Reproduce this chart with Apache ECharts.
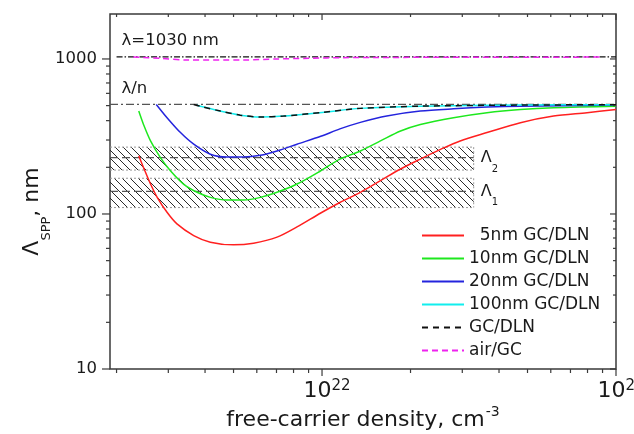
<!DOCTYPE html>
<html><head><meta charset="utf-8">
<script src="https://cdn.jsdelivr.net/npm/echarts@6/dist/echarts.min.js"></script>
<style>html,body{margin:0;padding:0;background:#fff}#c{width:634px;height:434px}</style>
</head><body><div id="c"></div>
<script>
// ---------------- data (x: free-carrier density, cm^-3; y: Λ_SPP, nm) ----------------
const red5N   = [2.38e21, 2.47e21, 2.61e21, 2.75e21, 2.97e21, 3.21e21, 3.66e21, 4.17e21, 5.0e21, 5.85e21, 7.03e21, 8.22e21, 9.9e21, 1.15e22, 1.35e22, 1.58e22, 1.85e22, 2.16e22, 2.53e22, 2.95e22, 3.64e22, 4.73e22, 6.13e22, 7.97e22, 1e23];
const red5L   = [237, 199.5, 156, 128, 102.5, 86.3, 72.6, 65.8, 63.2, 64.8, 70.9, 82.5, 101.5, 118.6, 138, 164, 195, 226, 261, 296, 335, 388, 428, 450, 472];

const green10N = [2.38e21, 2.47e21, 2.61e21, 2.82e21, 3.05e21, 3.38e21, 3.76e21, 4.17e21, 4.75e21, 5.41e21, 6.17e21, 7.03e21, 8.22e21, 9.9e21, 1.15e22, 1.35e22, 1.58e22, 1.85e22, 2.16e22, 2.80e22, 3.64e22, 4.73e22, 6.13e22, 1e23];
const green10L = [461, 378, 296, 231, 190, 156, 138, 128, 123, 123, 128, 138, 156, 190, 226, 255, 296, 343, 378, 418, 450, 472, 485, 496];

const blue20N = [2.73e21, 2.97e21, 3.30e21, 3.66e21, 4.17e21, 4.75e21, 5.41e21, 6.17e21, 7.03e21, 8.22e21, 9.9e21, 1.15e22, 1.35e22, 1.66e22, 2.16e22, 2.80e22, 3.64e22, 4.73e22, 1e23];
const blue20L = [509, 418, 335, 282, 243, 233, 233, 239, 255, 282, 317, 354, 390, 429, 461, 477, 489, 496, 504];

const cyan100N = [3.75e21, 3.85e21, 4.51e21, 5.27e21, 6.17e21, 7.40e21, 1e22, 1.35e22, 2.16e22, 4.73e22, 1e23];
const cyan100L = [503, 496, 461, 434, 422, 428, 452, 480, 496, 504, 507];

const gcDlnN = [3.66e21, 3.85e21, 4.51e21, 5.27e21, 6.17e21, 7.40e21, 1e22, 1.35e22, 2.16e22, 4.73e22, 1e23];
const gcDlnL = [509, 496, 461, 434, 422, 428, 452, 480, 496, 504, 507];

const airGcN = [2.28e21, 2.82e21, 3.47e21, 5.41e21, 7.03e21, 9.1e21, 1.18e22, 2.73e22, 9.0e22];
const airGcL = [1030, 1010, 985, 985, 1000, 1010, 1020, 1025, 1028];

const lambdaN = [2.0e21, 1e23];      const lambdaL = [1030, 1030];
const lambdaNN = [1.9e21, 1e23];     const lambdaNL = [509, 509];

// hatched bands Λ2 and Λ1: [low, high, centre]
const bandNames  = ['2', '1'];
const bandLow    = [192, 110];
const bandHigh   = [270, 170];
const bandCenter = [231, 140];
const bandEndN   = 3.28e22;

const annotN = [2.0e21, 2.0e21];
const annotL = [1030, 509];
const annotText = ['λ=1030 nm', 'λ/n'];

const legendNames = ['  5nm GC/DLN', '10nm GC/DLN', '20nm GC/DLN', '100nm GC/DLN', 'GC/DLN', 'air/GC'];

// tick values
const xMajorTicks = [1e22, 1e23];
const xMinorTicks = [2e21, 3e21, 4e21, 5e21, 6e21, 7e21, 8e21, 9e21, 2e22, 3e22, 4e22, 5e22, 6e22, 7e22, 8e22, 9e22];
const yMajorTicks = [10, 100, 1000];
const yMinorTicks = [20, 30, 40, 50, 60, 70, 80, 90, 200, 300, 400, 500, 600, 700, 800, 900];

const X_MIN = 1.9e21, X_MAX = 1e23, Y_MIN = 10, Y_MAX = 1950;
// ---------------------------------------------------------------------------------------

const FONT = 'DejaVu Sans';
const TXT = '#1a1a1a';
const AX = '#3a3a3a';

function pairs(xs, ys) { return xs.map((x, i) => [x, ys[i]]); }

// hatch pattern
const pc = document.createElement('canvas');
pc.width = 8; pc.height = 8;
const g = pc.getContext('2d');
g.strokeStyle = '#2a2a2a'; g.lineWidth = 1;
g.beginPath();
g.moveTo(0, 0); g.lineTo(8, 8);
g.moveTo(-2, 6); g.lineTo(2, 10);
g.moveTo(6, -2); g.lineTo(10, 2);
g.stroke();
const hatch = { image: pc, repeat: 'repeat' };

function curve(name, xs, ys, color, type, width) {
  return {
    type: 'line', name: name, data: pairs(xs, ys), showSymbol: false, symbol: 'none',
    smooth: 0.3, lineStyle: { color: color, width: width || 1.5, type: type || 'solid' },
    itemStyle: { color: color }, z: 5, silent: true
  };
}

const xTickData = xMajorTicks.map(v => [v, 100, 1]).concat(xMinorTicks.map(v => [v, 100, 0]));
const yTickData = yMajorTicks.map(v => [5e21, v, 1]).concat(yMinorTicks.map(v => [5e21, v, 0]));

const option = {
  animation: false,
  backgroundColor: '#fff',
  grid: { left: 110, right: 18, top: 14, bottom: 65, show: true, borderColor: AX, borderWidth: 1.5,
          containLabel: false, outerBoundsMode: 'none' },
  legend: {
    data: legendNames, orient: 'vertical', left: 421, top: 227,
    itemWidth: 42, itemHeight: 14, itemGap: 6, padding: 0,
    itemStyle: { opacity: 0, color: 'rgba(0,0,0,0)', borderWidth: 0 },
    textStyle: { fontFamily: FONT, fontSize: 17, color: TXT },
    selectedMode: false
  },
  xAxis: {
    type: 'log', logBase: 10, min: X_MIN, max: X_MAX,
    axisLine: { show: false }, axisTick: { show: false }, minorTick: { show: false },
    splitLine: { show: false }, minorSplitLine: { show: false },
    axisLabel: {
      margin: 8, showMinLabel: false, showMaxLabel: true, hideOverlap: false,
      formatter: function (v) { return '{b|10}{s|' + Math.round(Math.log10(v)) + '}'; },
      rich: {
        b: { fontFamily: FONT, fontSize: 22, lineHeight: 24, color: TXT, verticalAlign: 'top', padding: [3, 0, 0, 10] },
        s: { fontFamily: FONT, fontSize: 15, lineHeight: 16, color: TXT, verticalAlign: 'top', padding: [2, 0, 0, 0] }
      }
    },
    name: '{t|free-carrier density, cm}{s|-3}', nameLocation: 'middle', nameGap: 36, nameMoveOverlap: false,
    nameTextStyle: {
      fontFamily: FONT, fontSize: 22, color: TXT,
      rich: {
        t: { fontFamily: FONT, fontSize: 22, lineHeight: 24, color: TXT, verticalAlign: 'top', padding: [4, 0, 0, 0] },
        s: { fontFamily: FONT, fontSize: 14, lineHeight: 14, color: TXT, verticalAlign: 'top', padding: [0, 0, 0, 1] }
      }
    }
  },
  yAxis: {
    type: 'log', logBase: 10, min: Y_MIN, max: Y_MAX,
    axisLine: { show: false }, axisTick: { show: false }, minorTick: { show: false },
    splitLine: { show: false }, minorSplitLine: { show: false },
    axisLabel: {
      margin: 13, showMinLabel: true, showMaxLabel: false, hideOverlap: false,
      fontFamily: FONT, fontSize: 16.5, color: TXT,
      formatter: function (v) { return String(Math.round(v)); }
    },
    name: '{a|Λ}{sub|SPP}{c|,}{a| nm}', nameLocation: 'middle', nameRotate: 90, nameGap: 65, nameMoveOverlap: false,
    nameTextStyle: {
      fontFamily: FONT, fontSize: 22, color: TXT, padding: [0, 40, 0, 0],
      rich: {
        a: { fontFamily: FONT, fontSize: 22, lineHeight: 24, color: TXT, verticalAlign: 'top' },
        sub: { fontFamily: FONT, fontSize: 13, lineHeight: 12, color: TXT, verticalAlign: 'top', padding: [19, 0, 0, 0] },
        c: { fontFamily: FONT, fontSize: 22, lineHeight: 2, color: TXT, verticalAlign: 'top' }
      }
    }
  },
  series: [
    {
      type: 'custom', name: 'bands', silent: true, z: 1, clip: false,
      data: bandNames.map((n, i) => [bandEndN, bandHigh[i], bandLow[i], bandCenter[i], i]),
      renderItem: function (params, api) {
        const i = api.value(4);
        const pTL = api.coord([X_MIN, api.value(1)]);
        const pBR = api.coord([api.value(0), api.value(2)]);
        const yc = api.coord([X_MIN, api.value(3)])[1];
        const x0 = pTL[0], y0 = pTL[1], x1 = pBR[0], y1 = pBR[1];
        return {
          type: 'group', children: [
            { type: 'rect', shape: { x: x0, y: y0, width: x1 - x0, height: y1 - y0 }, style: { fill: hatch, stroke: null } },
            { type: 'line', shape: { x1: x0, y1: y0, x2: x1, y2: y0 }, style: { stroke: '#999', lineWidth: 1, lineDash: [2, 2] } },
            { type: 'line', shape: { x1: x0, y1: y1, x2: x1, y2: y1 }, style: { stroke: '#999', lineWidth: 1, lineDash: [2, 2] } },
            { type: 'line', shape: { x1: x1, y1: y0, x2: x1, y2: y1 }, style: { stroke: '#999', lineWidth: 1, lineDash: [2, 2] } },
            { type: 'line', shape: { x1: x0, y1: yc, x2: x1, y2: yc }, style: { stroke: '#555', lineWidth: 1.2, lineDash: [8, 4] } },
            { type: 'text', x: x1 + 7, y: yc - 7.5, style: {
                text: '{a|Λ}{b|' + bandNames[i] + '}', fill: TXT, align: 'left', verticalAlign: 'top',
                rich: {
                  a: { fontFamily: FONT, fontSize: 16, lineHeight: 18, fill: TXT, verticalAlign: 'top' },
                  b: { fontFamily: FONT, fontSize: 10, lineHeight: 10, fill: TXT, verticalAlign: 'top', padding: [14, 0, 0, 0] }
                } } }
          ]
        };
      }
    },
    { type: 'line', name: 'lambda', data: pairs(lambdaN, lambdaL), symbol: 'none', silent: true, z: 3,
      lineStyle: { color: '#111', width: 1.2, type: [6, 2, 1.5, 2] } },
    { type: 'line', name: 'lambda/n', data: pairs(lambdaNN, lambdaNL), symbol: 'none', silent: true, z: 3,
      lineStyle: { color: '#555', width: 1.2, type: [8, 3, 2, 3] } },
    {
      type: 'custom', name: 'annot', silent: true, z: 4, clip: false,
      data: annotText.map((t, i) => [annotN[i], annotL[i], i]),
      renderItem: function (params, api) {
        const p = api.coord([api.value(0), api.value(1)]);
        return { type: 'text', x: p[0] + 5, y: p[1] - 16, style: {
          text: annotText[api.value(2)], fill: TXT, fontFamily: FONT, fontSize: 16.5, align: 'left', verticalAlign: 'middle' } };
      }
    },
    curve(legendNames[0], red5N, red5L, '#ff2020'),
    curve(legendNames[1], green10N, green10L, '#1ee81e'),
    curve(legendNames[2], blue20N, blue20L, '#2424dd'),
    curve(legendNames[3], cyan100N, cyan100L, '#11eeee'),
    curve(legendNames[4], gcDlnN, gcDlnL, '#111111', [6, 5], 1.5),
    curve(legendNames[5], airGcN, airGcL, '#ee22ee', [6, 4], 1.5),
    {
      type: 'custom', name: 'xticks', silent: true, z: 10, clip: false,
      data: xTickData,
      renderItem: function (params, api) {
        const v = api.value(0), major = api.value(2);
        const b = api.coord([v, Y_MIN]), t = api.coord([v, Y_MAX]);
        const lb = major ? 7 : 4, lt = major ? 6 : 3;
        return { type: 'group', children: [
          { type: 'line', shape: { x1: b[0], y1: b[1], x2: b[0], y2: b[1] + lb }, style: { stroke: AX, lineWidth: 1.2 } },
          { type: 'line', shape: { x1: t[0], y1: t[1], x2: t[0], y2: t[1] + lt }, style: { stroke: AX, lineWidth: 1.2 } }
        ] };
      }
    },
    {
      type: 'custom', name: 'yticks', silent: true, z: 10, clip: false,
      data: yTickData,
      renderItem: function (params, api) {
        const v = api.value(1), major = api.value(2);
        const l = api.coord([X_MIN, v]), r = api.coord([X_MAX, v]);
        const ll = major ? 8 : 4, lr = major ? 6 : 3;
        return { type: 'group', children: [
          { type: 'line', shape: { x1: l[0], y1: l[1], x2: l[0] - ll, y2: l[1] }, style: { stroke: AX, lineWidth: 1.2 } },
          { type: 'line', shape: { x1: r[0], y1: r[1], x2: r[0] - lr, y2: r[1] }, style: { stroke: AX, lineWidth: 1.2 } }
        ] };
      }
    }
  ]
};

const chart = echarts.init(document.getElementById('c'), null, { renderer: 'canvas' });
chart.setOption(option);
</script>
</body></html>
